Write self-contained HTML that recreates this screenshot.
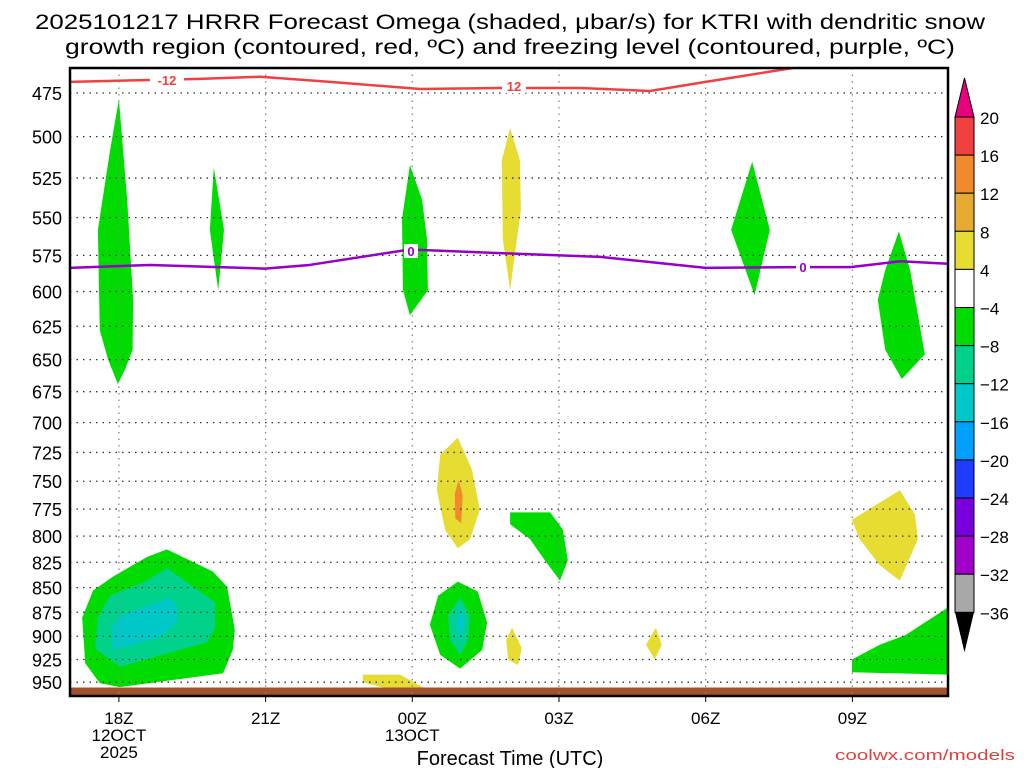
<!DOCTYPE html>
<html><head><meta charset="utf-8"><style>
html,body{margin:0;padding:0;background:#fff;}
svg{display:block;font-family:"Liberation Sans",sans-serif;}
</style></head><body>
<svg id="chart" width="1024" height="768" viewBox="0 0 1024 768">
<g font-size="21" fill="#000">
<text x="510" y="29" text-anchor="middle" textLength="950" lengthAdjust="spacingAndGlyphs">2025101217 HRRR Forecast Omega (shaded, μbar/s) for KTRI with dendritic snow</text>
<text x="510" y="54" text-anchor="middle" textLength="890" lengthAdjust="spacingAndGlyphs">growth region (contoured, red, ºC) and freezing level (contoured, purple, ºC)</text>
</g>
<g id="plot"></g>
<g id="cbar"></g>
<text x="510" y="765" text-anchor="middle" font-size="20">Forecast Time (UTC)</text>
<text x="1015" y="760" text-anchor="end" font-size="15" fill="#e04040" textLength="180" lengthAdjust="spacingAndGlyphs">coolwx.com/models</text>
</svg>
<script>
// ---- data ----
const pressureTicks=[475,500,525,550,575,600,625,650,675,700,725,750,775,800,825,850,875,900,925,950];
const timeTickHours=[18,21,24,27,30,33];
const timeTickLabels=[["18Z","12OCT","2025"],["21Z"],["00Z","13OCT"],["03Z"],["06Z"],["09Z"]];
const cbarLevels=[20,16,12,8,4,-4,-8,-12,-16,-20,-24,-28,-32,-36];
const cbarColors=["#f04040","#f08a2c","#e6ac32","#e6dc32","#ffffff","#00dc00","#00d28c","#00c8c8","#00a0ff","#1e3cff","#7800dc","#a000c8","#a8a8a8"];
// shaded regions: [hour, pressure(hPa)]
const greenCol1=[[18.0,478.5],[18.17,538.5],[18.29,606],[18.28,642.5],[18.12,658],[17.98,669],[17.78,650],[17.61,628],[17.57,558],[17.82,508]];
const greenCol2=[[19.94,518.5],[20.15,558],[20.03,599],[19.86,558]];
const greenCol3=[[23.95,517],[24.2,538.5],[24.3,564],[24.32,599],[23.95,617],[23.81,599],[23.79,551]];
const yellowCol=[[26.0,495],[26.2,514],[26.22,545],[26.0,599],[25.85,564],[25.83,514]];
const greenCol4=[[30.95,515],[31.31,558],[31.0,602.5],[30.52,558]];
const greenCol5=[[33.95,559],[34.18,585],[34.48,646],[34.01,665],[33.67,642.5],[33.52,606],[33.67,585]];
const yellow750=[[24.93,712.5],[25.22,740],[25.38,775.5],[25.18,803],[24.93,811.5],[24.67,794],[24.5,758],[24.57,727]];
const orange750=[[24.95,749],[25.03,763],[25.0,788],[24.88,783.5],[24.87,761]];
const green800=[[26.0,778],[26.82,778],[27.08,794],[27.18,823],[27.02,843],[26.71,823],[26.41,803],[26.0,789]];
const yellow800=[[32.99,784.7],[33.97,758],[34.28,780],[34.34,803],[33.97,843],[33.56,828],[33.15,803]];
const bigGreen=[[18.98,812.6],[19.92,834],[20.21,849],[20.37,893],[20.33,914.6],[20.13,940],[18.02,955.5],[17.61,951],[17.31,929],[17.25,880.5],[17.47,853],[17.88,839],[18.57,820]];
const bigTeal=[[18.98,830.6],[19.97,865],[19.97,891],[19.8,906.6],[18.02,933],[17.51,913],[17.57,880.5],[17.82,858],[18.49,845]];
const bigCyan=[[19.04,860],[19.19,870],[19.19,885.6],[18.84,901],[17.88,914.6],[17.86,891],[17.98,880.5],[18.49,870]];
const green875=[[24.93,844],[25.34,854],[25.53,885.6],[25.43,914.6],[24.98,935],[24.57,920],[24.36,888],[24.53,858]];
const teal875=[[24.98,860],[25.18,878],[25.14,904],[24.98,920],[24.77,904],[24.73,878]];
const cyan875=[[24.98,870],[25.08,885.6],[24.98,906.6],[24.88,885.6]];
const yellow925a=[[26.04,891],[26.24,913],[26.16,931],[25.96,925],[25.92,904]];
const yellow925b=[[28.98,891],[29.1,909],[28.96,925],[28.78,909]];
const yellow950=[[22.99,941.6],[23.75,941.6],[24.26,957],[23.65,959.6],[22.99,950]];
const green940=[[32.99,925],[33.56,909],[34.08,899],[34.96,870],[34.96,941.6],[32.99,939]];
const shadeOrder=[["#00dc00",greenCol1],["#00dc00",greenCol2],["#00dc00",greenCol3],["#e6dc32",yellowCol],["#00dc00",greenCol4],["#00dc00",greenCol5],["#e6dc32",yellow750],["#f08a2c",orange750],["#00dc00",green800],["#e6dc32",yellow800],["#00dc00",bigGreen],["#00d28c",bigTeal],["#00c8c8",bigCyan],["#00dc00",green875],["#00d28c",teal875],["#00c8c8",cyan875],["#e6dc32",yellow925a],["#e6dc32",yellow925b],["#e6dc32",yellow950],["#00dc00",green940]];
const dgzHours=[17,18.64,19.66,20.89,22.32,24.16,25.79,27.43,28.86,30.0,31.93];
const dgzPressure=[468.8,467.8,467.2,466,468.8,472.8,472.2,472.2,473.9,468.8,460.6];
const frzHours=[17,18.64,20.99,21.9,23.95,26.2,27.84,30.0,31.93,32.96,33.98,34.96];
const frzPressure=[583.5,581.5,584,581.5,571,574,576,583.5,583,583,579,580.7];
const surfaceTop=956, surfaceBottom=965;
// ---- scales (log-pressure) ----
const X0=70,X1=948,Y0=68,Y1=696;
const xs=h=>X0+(h-17)*48.9;
const ys=p=>93+850*Math.log(p/475);
const NS="http://www.w3.org/2000/svg";
function mk(tag,attrs,parent){const e=document.createElementNS(NS,tag);for(const k in attrs)e.setAttribute(k,attrs[k]);parent.appendChild(e);return e;}
const plot=document.getElementById('plot');
const clip=mk('clipPath',{id:'pc'},plot);mk('rect',{x:X0,y:Y0,width:X1-X0,height:Y1-Y0},clip);
const inner=mk('g',{'clip-path':'url(#pc)'},plot);
shadeOrder.forEach((s,i)=>{
 const pg=mk('polygon',{points:s[1].map(q=>xs(q[0]).toFixed(1)+','+ys(q[1]).toFixed(1)).join(' '),fill:s[0]},inner);
 
 
});
const sb=mk('rect',{x:X0,y:ys(surfaceTop),width:X1-X0,height:ys(surfaceBottom)-ys(surfaceTop),fill:'#a0522d'},inner);


pressureTicks.forEach(p=>{
 const l=mk('line',{x1:X0,x2:X1,y1:ys(p),y2:ys(p),stroke:'#333','stroke-width':1.3,'stroke-dasharray':'1.5,5'},inner);
 
 
 const t=mk('text',{x:62,y:ys(p)+7,'text-anchor':'end','font-size':18},plot);
 t.textContent=p;
 
 
});
timeTickHours.forEach((h,i)=>{
 const l=mk('line',{x1:xs(h),x2:xs(h),y1:Y0,y2:Y1,stroke:'#888','stroke-width':1.3,'stroke-dasharray':'1.5,5'},inner);
 
 
 mk('line',{x1:xs(h),x2:xs(h),y1:Y1,y2:Y1+6,stroke:'#000','stroke-width':1},plot);
 timeTickLabels[i].forEach((s,j)=>{
  const t=mk('text',{x:xs(h),y:724+j*17,'text-anchor':'middle','font-size':17},plot);
  t.textContent=s;
  
  
 });
});
const dgz=mk('polyline',{points:dgzHours.map((h,i)=>xs(h)+','+ys(dgzPressure[i])).join(' '),fill:'none',stroke:'#f04040','stroke-width':2.5,'stroke-linejoin':'round'},inner);


const frz=mk('polyline',{points:frzHours.map((h,i)=>xs(h)+','+ys(frzPressure[i])).join(' '),fill:'none',stroke:'#9600c8','stroke-width':2.5,'stroke-linejoin':'round'},inner);


[[167,80,'-12','#f04040'],[514,86,'12','#f04040'],[411,251,'0','#9600c8'],[803,267,'0','#9600c8']].forEach(a=>{
 mk('rect',{x:a[0]-(a[2].length*5+2),y:a[1]-7,width:a[2].length*10+4,height:14,fill:'#fff'},plot);
 const t=mk('text',{x:a[0],y:a[1]+5,'text-anchor':'middle','font-size':13,'font-weight':'bold',fill:a[3]},plot);
 t.textContent=a[2];
 
 
});
const fr=mk('rect',{x:X0,y:Y0,width:X1-X0,height:Y1-Y0,fill:'none',stroke:'#000','stroke-width':2.5},plot);


const cb=document.getElementById('cbar');
const CX=955,CW=19,CT=117,CS=38.1;
const tt=mk('polygon',{points:`${CX},${CT} ${CX+CW},${CT} ${CX+CW/2},78`,fill:'#e8007f',stroke:'#000'},cb);


cbarColors.forEach((c,i)=>{
 const r=mk('rect',{x:CX,y:CT+i*CS,width:CW,height:CS,fill:c,stroke:'#000','stroke-width':1},cb);
 
 
});
const bt=CT+cbarColors.length*CS;
const tb=mk('polygon',{points:`${CX},${bt} ${CX+CW},${bt} ${CX+CW/2},${bt+40}`,fill:'#000'},cb);


cbarLevels.forEach((v,i)=>{
 const t=mk('text',{x:980,y:CT+i*CS+7,'font-size':17},cb);
 t.textContent=v<0?'\u2212'+(-v):String(v);
 
 
});
</script>
</body></html>
